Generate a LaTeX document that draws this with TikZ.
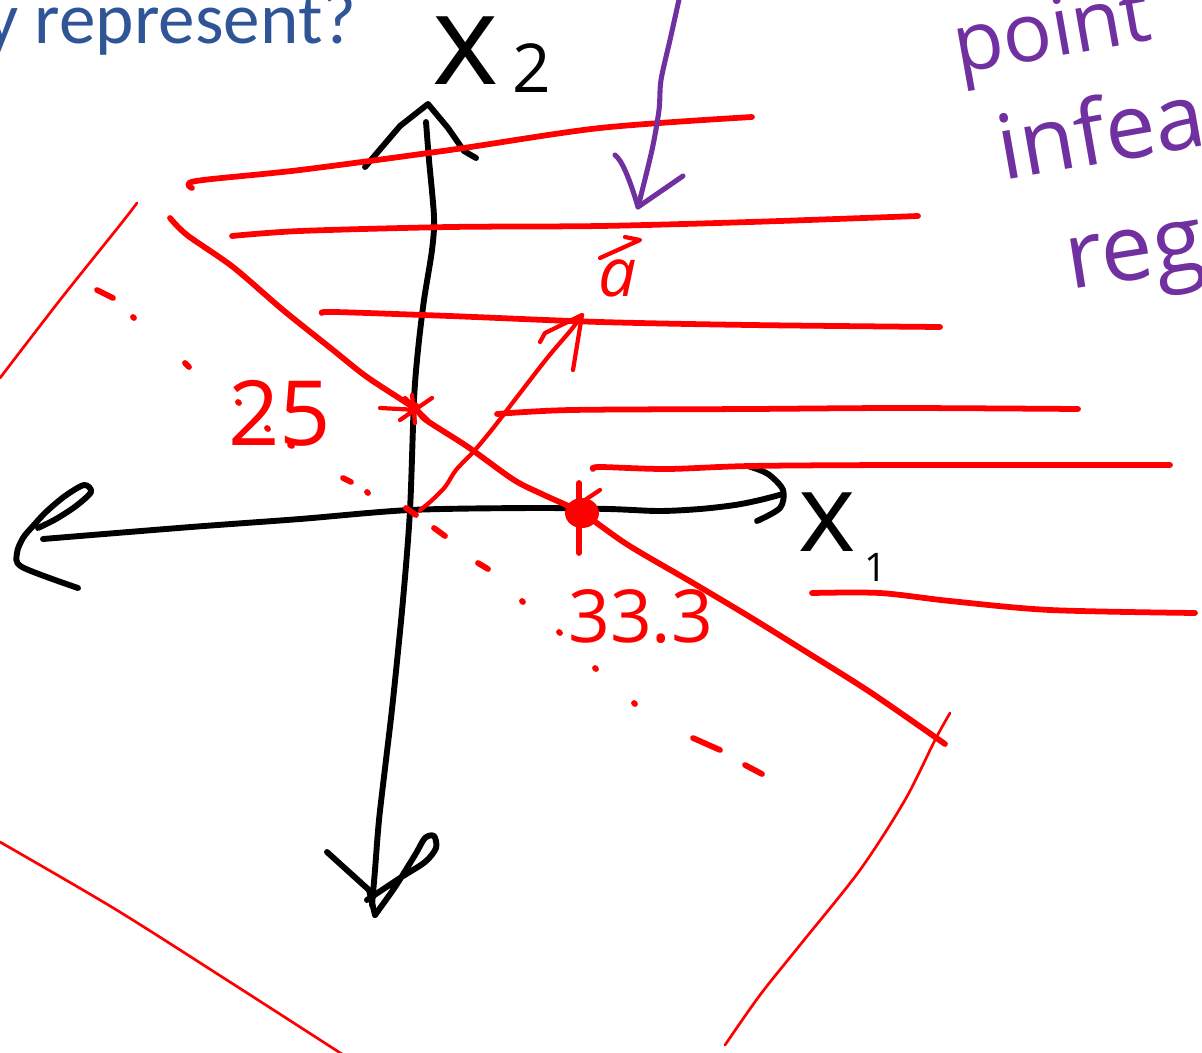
\documentclass[tikz,border=0pt]{standalone}
\usepackage{fontspec}
\setmainfont{Open Sans}
\newfontfamily\titlefont{Carlito}
\definecolor{penred}{RGB}{255,0,0}
\definecolor{penpurple}{RGB}{112,48,160}
\definecolor{titleblue}{RGB}{47,85,151}
\begin{document}
\begin{tikzpicture}[x=0.025cm,y=-0.025cm,line cap=round,line join=round,
  blackpen/.style={draw=black,line width=4.2pt},
  redpen/.style={draw=penred,line width=4.1pt},
  thinred/.style={draw=penred,line width=1.9pt},
  vecpen/.style={draw=penred,line width=3pt},
  purplepen/.style={draw=penpurple,line width=3.6pt},
  hand/.style={inner sep=0pt,anchor=base west}]
\useasboundingbox (0,0) rectangle (1202,1052);
\clip (0,0) rectangle (1202,1052);

% named points
\coordinate (O) at (410,510);
\coordinate (P25) at (414,408);
\coordinate (P33) at (582,513);
\coordinate (atip) at (582,315);

% title (cut off)
\node[hand,text=titleblue,font=\titlefont\fontsize{52}{60}\selectfont] (title) at (-15,43) {y represent?};

% ---- black axes ----
\draw[blackpen] plot[smooth] coordinates {(426,122) (429,160) (434,217) (432,250) (424,300) (418,350) (414,400) (O) (403,600) (393,700) (386,760) (379,820) (375,870) (372,905)};
\draw[blackpen] (365,167) -- (400,126) -- (428,104) -- (448,128) -- (464,151) -- (476,158);
\draw[blackpen] (327,852) -- (369,890) -- (375,915);
\draw[blackpen] plot[smooth] coordinates {(375,915) (395,887) (415,855) (425,838) (434,836) (436,848) (425,862) (400,878) (367,900)};
\draw[blackpen] plot[smooth] coordinates {(43,539) (191,527) (300,519) (O) (533,508) (609,509) (659,511) (700,509) (735,505) (760,500) (783,494)};
\draw[blackpen] plot[smooth] coordinates {(78,588) (22,567) (17,553) (23,538) (33,526) (46,512) (65,496) (84,485) (91,492) (76,506) (56,519) (38,528)};
\draw[blackpen] plot[smooth] coordinates {(748,466) (768,474) (783,490) (780,508) (757,521)};
\node[hand,font=\fontsize{90}{90}\selectfont] (xtwo) at (432,84) {x\hspace{10pt}\raisebox{-6pt}{\fontsize{48}{48}\selectfont 2}};
\node[hand,font=\fontsize{78}{78}\selectfont] (xone) at (798,551) {x\hspace{6pt}\raisebox{-22pt}{\fontsize{28}{28}\selectfont 1}};

% ---- red level lines ----
\draw[redpen] plot[smooth] coordinates {(192,188) (196,181) (300,170) (450,150) (600,128) (752,117)};
\draw[redpen] plot[smooth] coordinates {(232,236) (300,231) (450,227) (600,226) (750,222) (918,216)};
\draw[redpen] plot[smooth] coordinates {(322,313) (335,312) (450,316) (600,322) (750,325) (940,327)};
\draw[redpen] plot[smooth] coordinates {(497,414) (571,410) (750,409) (900,408) (1078,409)};
\draw[redpen] plot[smooth] coordinates {(593,469) (600,467) (667,469) (750,466) (900,465) (1170,465)};
\draw[redpen] plot[smooth] coordinates {(812,593) (880,593) (950,601) (1050,610) (1195,613)};

% constraint line
\draw[redpen] plot[smooth] coordinates {(170,218) (187,235) (233,267) (283,310) (333,350) (367,377) (P25) (426,420) (468,447) (514,480) (544,495) (P33) (628,545) (693,583) (750,617) (800,648) (870,692) (945,744)};

% thin red lines
\draw[thinred] plot[smooth] coordinates {(137,203) (120,225) (60,300) (0,378)};
\draw[thinred] plot[smooth] coordinates {(0,842) (115,909) (230,982) (345,1056)};
\draw[thinred] plot[smooth] coordinates {(950,713) (935,740) (905,800) (860,870) (800,945) (760,995) (725,1045)};

% dash-dot parallel line through origin
\draw[redpen] (97,290)--(113,298) (133,317)--(134,318) (185,363)--(189,367) (238,402)--(239,403)
  (267,428)--(268,429) (290,445)--(292,446) (343,478)--(351,482) (367,492)--(368,493)
  (406,508)--(416,515) (434,528)--(445,536) (478,563)--(488,569) (522,601)--(523,602)
  (559,632)--(560,633) (595,668)--(596,669) (634,703)--(635,704) (693,738)--(720,750) (745,765)--(762,774);

% vector a
\draw[vecpen] plot[smooth] coordinates {(420,510) (430,502) (445,487) (456,470) (475,450) (494,427) (517,397) (548,357) (571,330) (atip)};
\draw[vecpen] (540,342) -- (545,333) -- (atip) -- (573,370);
\node[hand,text=penred,font=\itshape\fontsize{48}{48}\selectfont] (aletter) at (598,296) {a};
\draw[vecpen] (600,258) -- (640,240) -- (625,237);

% marks on intercepts
\draw[vecpen] (380,408) -- (418,410) (400,420) -- (432,398) (405,398) -- (428,420) (412,395) -- (415,423);
\fill[penred] (P25) circle (6);
\fill[penred] (P33) ellipse (17 and 15);
\draw[redpen] (579,483) -- (579,553);
\draw[vecpen] (600,490) -- (585,500);

% intercept labels
\node[hand,text=penred,font=\fontsize{64}{64}\selectfont] (lab25) at (228,445) {25};
\node[hand,text=penred,font=\fontsize{52}{52}\selectfont] (lab33) at (568,642) {33.3};

% ---- purple annotation ----
\draw[purplepen] plot[smooth] coordinates {(680,-5) (670,40) (661,80) (659,110) (652,150) (638,207)};
\draw[purplepen] (615,155) .. controls (622,160) and (630,180) .. (638,207) -- (683,176);
\node[hand,text=penpurple,rotate=10,font=\fontsize{58}{58}\selectfont] (points) at (958,74) {point};
\node[hand,text=penpurple,rotate=10,font=\fontsize{64}{64}\selectfont] (infeasible) at (1003,181) {infea};
\node[hand,text=penpurple,rotate=9,font=\fontsize{66}{66}\selectfont] (region) at (1070,290) {reg};
\end{tikzpicture}
\end{document}
